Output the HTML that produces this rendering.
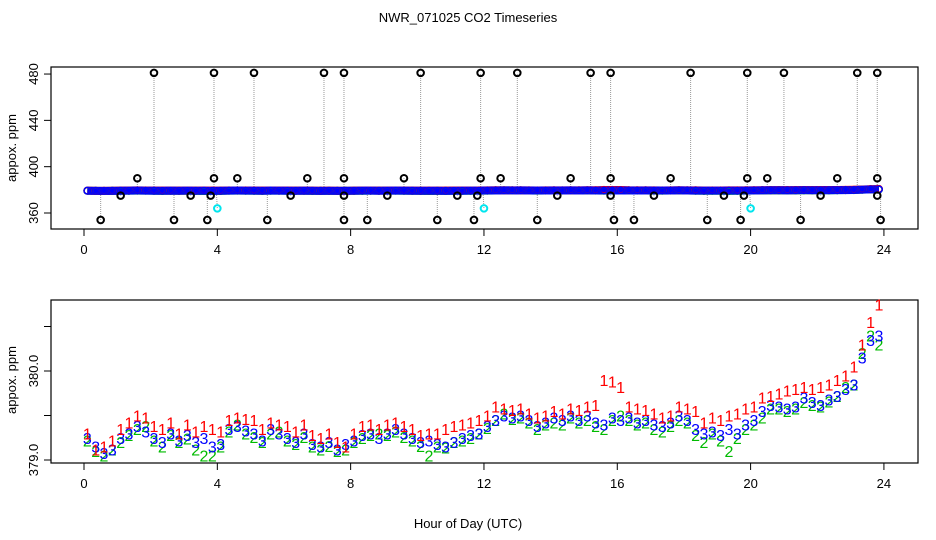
<!DOCTYPE html>
<html><head><meta charset="utf-8"><style>
html,body{margin:0;padding:0;background:#fff}
svg{display:block;font-family:"Liberation Sans",Arial,sans-serif}
</style></head><body>
<svg id="c" width="936" height="540" viewBox="0 0 936 540">
<text x="468" y="22" text-anchor="middle" font-size="13">NWR_071025  CO2 Timeseries</text>
<g id="topPanel"></g>
<g id="botPanel"></g>
<text x="468" y="528" text-anchor="middle" font-size="13">Hour of Day (UTC)</text>
</svg>
<script>
const hours = [];
for (let i = 0; i < 96; i++) hours.push(0.1 + i * 0.25);
const s3 = [379.25,379.15,379.08,379.12, 379.25,379.3,379.38,379.32, 379.25,379.2,379.3,379.22, 379.28,379.2,379.25,379.15,
 379.18,379.35,379.38,379.33, 379.3,379.22,379.35,379.3, 379.25,379.2,379.3,379.18, 379.15,379.2,379.12,379.18,
 379.22,379.28,379.3,379.25, 379.3,379.35,379.3,379.25, 379.2,379.22,379.18,379.15, 379.2,379.25,379.28,379.3,
 379.38,379.45,379.5,379.48, 379.5,379.45,379.38,379.42, 379.48,379.45,379.5,379.45, 379.5,379.42,379.4,379.48,
 379.45,379.48,379.42,379.45, 379.4,379.38,379.42,379.5, 379.45,379.35,379.3,379.32, 379.28,379.35,379.3,379.4,
 379.45,379.55,379.62,379.6, 379.58,379.6,379.7,379.65, 379.62,379.68,379.72,379.8, 379.85,380.15,380.35,380.4];
const s1 = [379.3,379.12,379.15,379.22, 379.35,379.42,379.5,379.48, 379.38,379.35,379.42,379.3, 379.4,379.32,379.38,379.35,
 379.32,379.45,379.48,379.46, 379.45,379.35,379.42,379.4, 379.38,379.32,379.4,379.28, 379.25,379.3,379.2,379.15,
 379.3,379.38,379.4,379.35, 379.4,379.42,379.38,379.35, 379.28,379.3,379.3,379.35, 379.38,379.4,379.42,379.45,
 379.5,379.6,379.58,379.56, 379.58,379.52,379.48,379.5, 379.55,379.52,379.58,379.56, 379.6,379.62,379.9,379.88,
 379.82,379.6,379.58,379.56, 379.52,379.48,379.5,379.6, 379.58,379.55,379.42,379.48, 379.45,379.5,379.52,379.58,
 379.6,379.7,379.72,379.75, 379.78,379.8,379.82,379.8, 379.82,379.85,379.9,379.95, 380.05,380.3,380.55,380.75];
const s2 = [379.22,379.1,379.05,379.12, 379.2,379.28,379.35,379.38, 379.22,379.15,379.28,379.2, 379.24,379.12,379.05,379.05,
 379.15,379.32,379.4,379.3, 379.26,379.2,379.3,379.32, 379.22,379.18,379.26,379.15, 379.12,379.16,379.1,379.12,
 379.2,379.25,379.28,379.3, 379.28,379.32,379.26,379.22, 379.16,379.05,379.15,379.14, 379.2,379.22,379.25,379.3,
 379.36,379.45,379.52,379.46, 379.48,379.42,379.35,379.4, 379.42,379.4,379.48,379.42, 379.45,379.38,379.35,379.45,
 379.5,379.45,379.4,379.42, 379.35,379.32,379.38,379.45, 379.42,379.28,379.2,379.3, 379.22,379.1,379.25,379.35,
 379.4,379.48,379.58,379.58, 379.55,379.58,379.65,379.62, 379.6,379.66,379.72,379.82, 379.85,380.2,380.4,380.3];
const outHours = [2.1,3.9,5.1,7.2,7.8,10.1,11.9,13.0,15.2,15.8,18.2,19.9,21.0,23.2,23.8,
 1.6,3.9,4.6,6.7,7.8,9.6,11.9,12.5,14.6,15.8,17.6,19.9,20.5,22.6,23.8,
 1.1,3.2,3.8,6.2,7.8,9.1,11.2,11.8,14.2,15.8,17.1,19.2,19.8,22.1,23.8,
 0.5,2.7,3.7,5.5,7.8,8.5,10.6,11.7,13.6,15.9,16.5,18.7,19.7,21.5,23.9];
const outVals = [481,481,481,481,481,481,481,481,481,481,481,481,481,481,481,
 390,390,390,390,390,390,390,390,390,390,390,390,390,390,390,
 375,375,375,375,375,375,375,375,375,375,375,375,375,375,375,
 354,354,354,354,354,354,354,354,354,354,354,354,354,354,354];
const cyanHours = [4.0,12.0,20.0];
const cyanVals = [364,364,364];
const xTicks = [0,4,8,12,16,20,24];
const topYTicks = [360,400,440,480];
const botYTicks = [379.0,379.5,380.0,380.5];
const botYLabels = ["379.0","","380.0",""];

const NS = "http://www.w3.org/2000/svg";
function mk(tag, attrs, parent, txt){const e=document.createElementNS(NS,tag);for(const k in attrs)e.setAttribute(k,attrs[k]);if(txt!==undefined)e.textContent=txt;parent.appendChild(e);return e;}
const X = h => 84 + h * 33.33;
const Yt = v => 213 - (v - 360) * 1.158;
const Yb = v => 460 - (v - 379) * 89;

function panel(g, y0, y1, yfun, yticks, ylabels, ycenter){
  const box = mk('rect',{x:51,y:y0,width:867,height:y1-y0,fill:'none',stroke:'#000','stroke-width':1.2},g);
  
  
  xTicks.forEach(t=>{
    mk('line',{x1:X(t),x2:X(t),y1:y1,y2:y1+7,stroke:'#000'},g);
    const tl = mk('text',{x:X(t),y:y1+25,'text-anchor':'middle','font-size':13},g,String(t));
    
    
  });
  yticks.forEach((t,i)=>{
    const y=yfun(t);
    mk('line',{x1:44,x2:51,y1:y,y2:y,stroke:'#000'},g);
    if(ylabels[i]){
      const tl = mk('text',{x:0,y:0,'text-anchor':'middle','font-size':13,transform:`translate(38,${y}) rotate(-90)`},g,ylabels[i]);
      
      
    }
  });
  const yl = mk('text',{x:0,y:0,'text-anchor':'middle','font-size':13,transform:`translate(16,${ycenter}) rotate(-90)`},g,'appox. ppm');
  
  
}
const topG = document.getElementById('topPanel'), botG = document.getElementById('botPanel');
panel(topG, 67, 229, Yt, topYTicks, topYTicks.map(String), 148);
panel(botG, 300, 463, Yb, botYTicks, botYLabels, 380);

outHours.forEach((h,i)=>{
  mk('line',{x1:X(h),x2:X(h),y1:Yt(379),y2:Yt(outVals[i]),stroke:'#999','stroke-dasharray':'1,1'},topG);
});
cyanHours.forEach((h,i)=>{
  mk('line',{x1:X(h)-1,x2:X(h),y1:Yt(379),y2:Yt(cyanVals[i]),stroke:'#999','stroke-dasharray':'1,1'},topG);
});
[[s2,'#00cc00'],[s1,'#ff0000'],[s3,'#0000ff']].forEach(([arr,col])=>{
  mk('polyline',{points:arr.map((v,i)=>X(hours[i])+','+Yt(v)).join(' '),fill:'none',stroke:col,'stroke-width':8},topG);
});
[[s2,'#00cc00'],[s1,'#ff0000'],[s3,'#0000ff']].forEach(([arr,col])=>{
  arr.forEach((v,i)=>{
    const c = mk('circle',{cx:X(hours[i]),cy:Yt(v),r:3.3,fill:'none',stroke:col,'stroke-width':1.5},topG);
    
    
  });
});
outHours.forEach((h,i)=>{
  const c = mk('circle',{cx:X(h),cy:Yt(outVals[i]),r:3.3,fill:'none',stroke:'#000','stroke-width':2},topG);
  
  
});
cyanHours.forEach((h,i)=>{
  const c = mk('circle',{cx:X(h),cy:Yt(cyanVals[i]),r:3.3,fill:'none',stroke:'#00e5ee','stroke-width':2},topG);
  
  
});

[[s2,'#00bb00','2'],[s3,'#0000ff','3'],[s1,'#ff0000','1']].forEach(([arr,col,lab])=>{
  arr.forEach((v,i)=>{
    const t = mk('text',{x:X(hours[i]),y:Yb(v)+6,'text-anchor':'middle','font-size':16,fill:col},botG,lab);
    
    
  });
});
</script>
</body></html>
